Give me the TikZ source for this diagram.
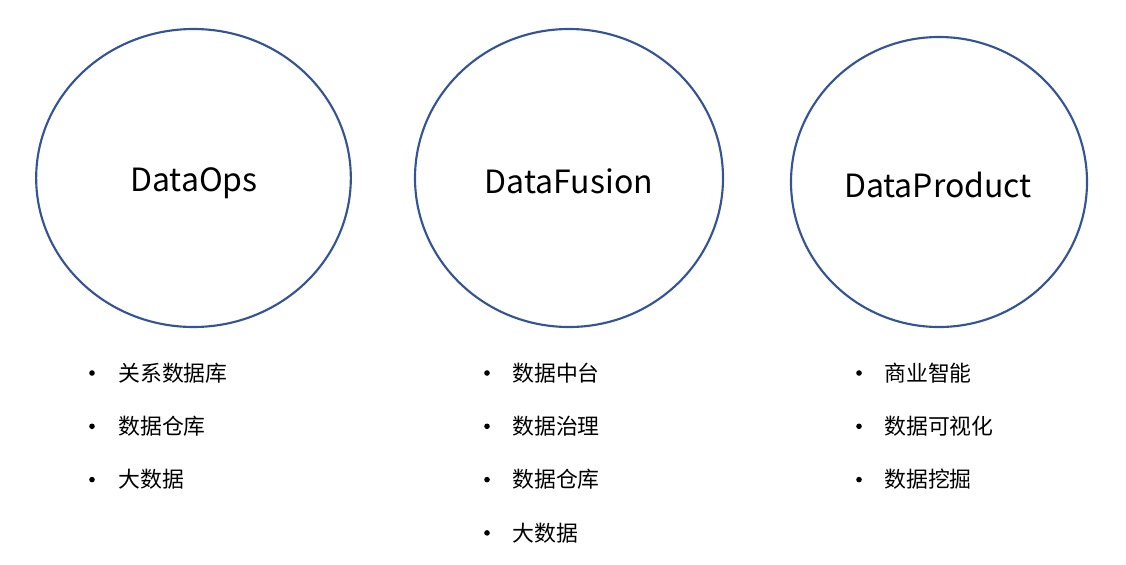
\documentclass[tikz,border=0pt]{standalone}
\usepackage{fontspec}
\setmainfont{Noto Sans CJK SC}
\usetikzlibrary{shapes.geometric}
\definecolor{RingBlue}{RGB}{52,84,150}
\tikzset{
  ring/.style={ellipse,draw=RingBlue,line width=1.6pt,inner sep=0pt},
  ringname/.style={inner sep=0pt,font=\fontsize{24}{28}\selectfont},
  dot/.style={circle,fill=black,inner sep=0pt,minimum size=4.2pt},
  item/.style={anchor=west,inner sep=0pt,font=\fontsize{16.4}{19}\selectfont}
}

\begin{document}
\begin{tikzpicture}[x=0.75pt,y=-0.75pt]
  \useasboundingbox (0,0) rectangle (1126,564);
  % the three rings
  \node[ring,minimum width=236pt,minimum height=223.5pt] (ops) at (193.5,178) {};
  \node[ring,minimum width=231pt,minimum height=223.5pt] (fusion) at (569,178) {};
  \node[ring,minimum width=222pt,minimum height=217.5pt] (product) at (939,182) {};
  \node[ringname] (opsname) at (194,183) {DataOps};
  \node[ringname] (fusionname) at (569,181.5) {DataFusion};
  \node[ringname] (productname) at (938,185) {DataProduct};
  % bullet lists
  \foreach \txt [count=\i] in {关系数据库,数据仓库,大数据}
    {\node[dot] (opsdot\i) at (92,{319.7+53.3*\i}) {};
     \node[item] (opsitem\i) at (118,{319.7+53.3*\i}) {\txt};}
  \foreach \txt [count=\i] in {数据中台,数据治理,数据仓库,大数据}
    {\node[dot] (fusiondot\i) at (487,{319.7+53.3*\i}) {};
     \node[item] (fusionitem\i) at (512,{319.7+53.3*\i}) {\txt};}
  \foreach \txt [count=\i] in {商业智能,数据可视化,数据挖掘}
    {\node[dot] (productdot\i) at (859,{319.7+53.3*\i}) {};
     \node[item] (productitem\i) at (884,{319.7+53.3*\i}) {\txt};}
\end{tikzpicture}
\end{document}
